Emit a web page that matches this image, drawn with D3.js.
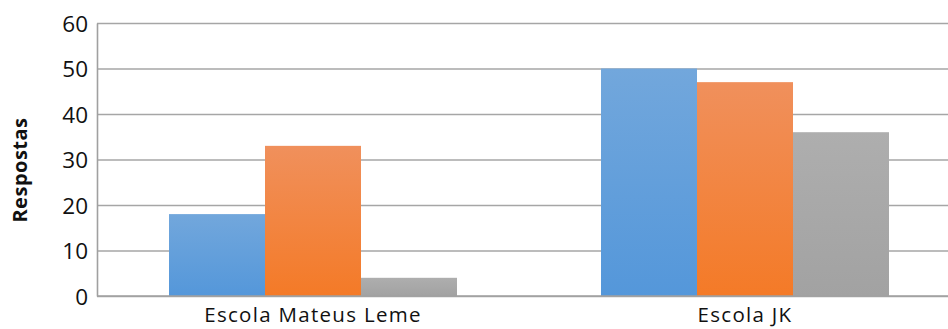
<!DOCTYPE html>
<html>
<head>
<meta charset="utf-8">
<script src="https://cdn.jsdelivr.net/npm/d3@7/dist/d3.min.js"></script>
<style>
  html, body { margin: 0; padding: 0; background: #fff; overflow: hidden; }
  svg { display: block; }
</style>
</head>
<body>
<svg id="chart" width="948" height="329"></svg>
<script>
// Responses per school, three series
const categories = ["Escola Mateus Leme", "Escola JK"];
const seriesA = [18, 50];
const seriesB = [33, 47];
const seriesC = [4, 36];
const yTicks = [0, 10, 20, 30, 40, 50, 60];

const series = [
  { key: "a", values: seriesA, top: "#72a7dc", bottom: "#5497da" },
  { key: "b", values: seriesB, top: "#f0905c", bottom: "#f47a27" },
  { key: "c", values: seriesC, top: "#aeaeae", bottom: "#a2a2a2" }
];

const FONT = "'Open Sans', 'Noto Sans', sans-serif";
const svg = d3.select("#chart");
const plot = { left: 97, right: 961, top: 23, bottom: 296 };

const x = d3.scaleBand().domain(categories).range([plot.left, plot.right]).paddingInner(0).paddingOuter(0);
const y = d3.scaleLinear().domain([0, 60]).range([plot.bottom, plot.top]);
const inner = d3.scaleBand().domain(series.map(s => s.key))
  .range([0, x.bandwidth()]).paddingInner(0).paddingOuter(0.75);

const defs = svg.append("defs");
series.forEach(s => {
  const g = defs.append("linearGradient").attr("id", "grad-" + s.key)
    .attr("x1", 0).attr("y1", 0).attr("x2", 0).attr("y2", 1);
  g.append("stop").attr("offset", "0%").attr("stop-color", s.top);
  g.append("stop").attr("offset", "100%").attr("stop-color", s.bottom);
});

// Gridlines
svg.append("g")
  .attr("transform", `translate(${plot.left},0)`)
  .call(d3.axisLeft(y).tickValues(yTicks).tickSize(-(plot.right - plot.left)).tickFormat(""))
  .call(g => g.select(".domain").remove())
  .call(g => g.selectAll(".tick line").attr("stroke", "#a6a6a6").attr("stroke-width", 1.4));

// Bars
const groups = svg.append("g").selectAll("g")
  .data(categories)
  .join("g")
  .attr("transform", d => `translate(${x(d)},0)`);

groups.selectAll("rect")
  .data((d, i) => series.map(s => ({ key: s.key, value: s.values[i] })))
  .join("rect")
  .attr("x", d => inner(d.key))
  .attr("width", inner.bandwidth())
  .attr("y", d => y(d.value))
  .attr("height", d => y(0) - y(d.value))
  .attr("fill", d => `url(#grad-${d.key})`);

// Baseline
svg.append("line")
  .attr("x1", plot.left).attr("x2", plot.right)
  .attr("y1", y(0)).attr("y2", y(0))
  .attr("stroke", "#a0a0a0").attr("stroke-width", 1.6);

// Y axis
const yAxis = svg.append("g")
  .attr("transform", `translate(${plot.left},0)`)
  .call(d3.axisLeft(y).tickValues(yTicks).tickSize(0).tickPadding(9));
yAxis.select(".domain").attr("stroke", "#a0a0a0").attr("stroke-width", 1.6);
yAxis.selectAll(".tick text")
  .attr("font-family", FONT)
  .attr("font-size", 22.5)
  .attr("fill", "#111")
  .attr("dy", "0.36em");

// X axis labels
const xAxis = svg.append("g")
  .attr("transform", `translate(0,${plot.bottom})`)
  .call(d3.axisBottom(x).tickSize(0).tickPadding(26));
xAxis.select(".domain").remove();
xAxis.selectAll(".tick text")
  .attr("font-family", FONT)
  .attr("font-size", 20.5)
  .attr("fill", "#111")
  .attr("letter-spacing", "1.3px")
  .attr("dy", "0");

// Y axis title
svg.append("text")
  .attr("transform", `translate(27,170) rotate(-90)`)
  .attr("text-anchor", "middle")
  .attr("font-family", FONT)
  .attr("font-weight", "bold")
  .attr("font-size", 20)
  .attr("letter-spacing", "0.5px")
  .attr("fill", "#111")
  .text("Respostas");
</script>
</body>
</html>
